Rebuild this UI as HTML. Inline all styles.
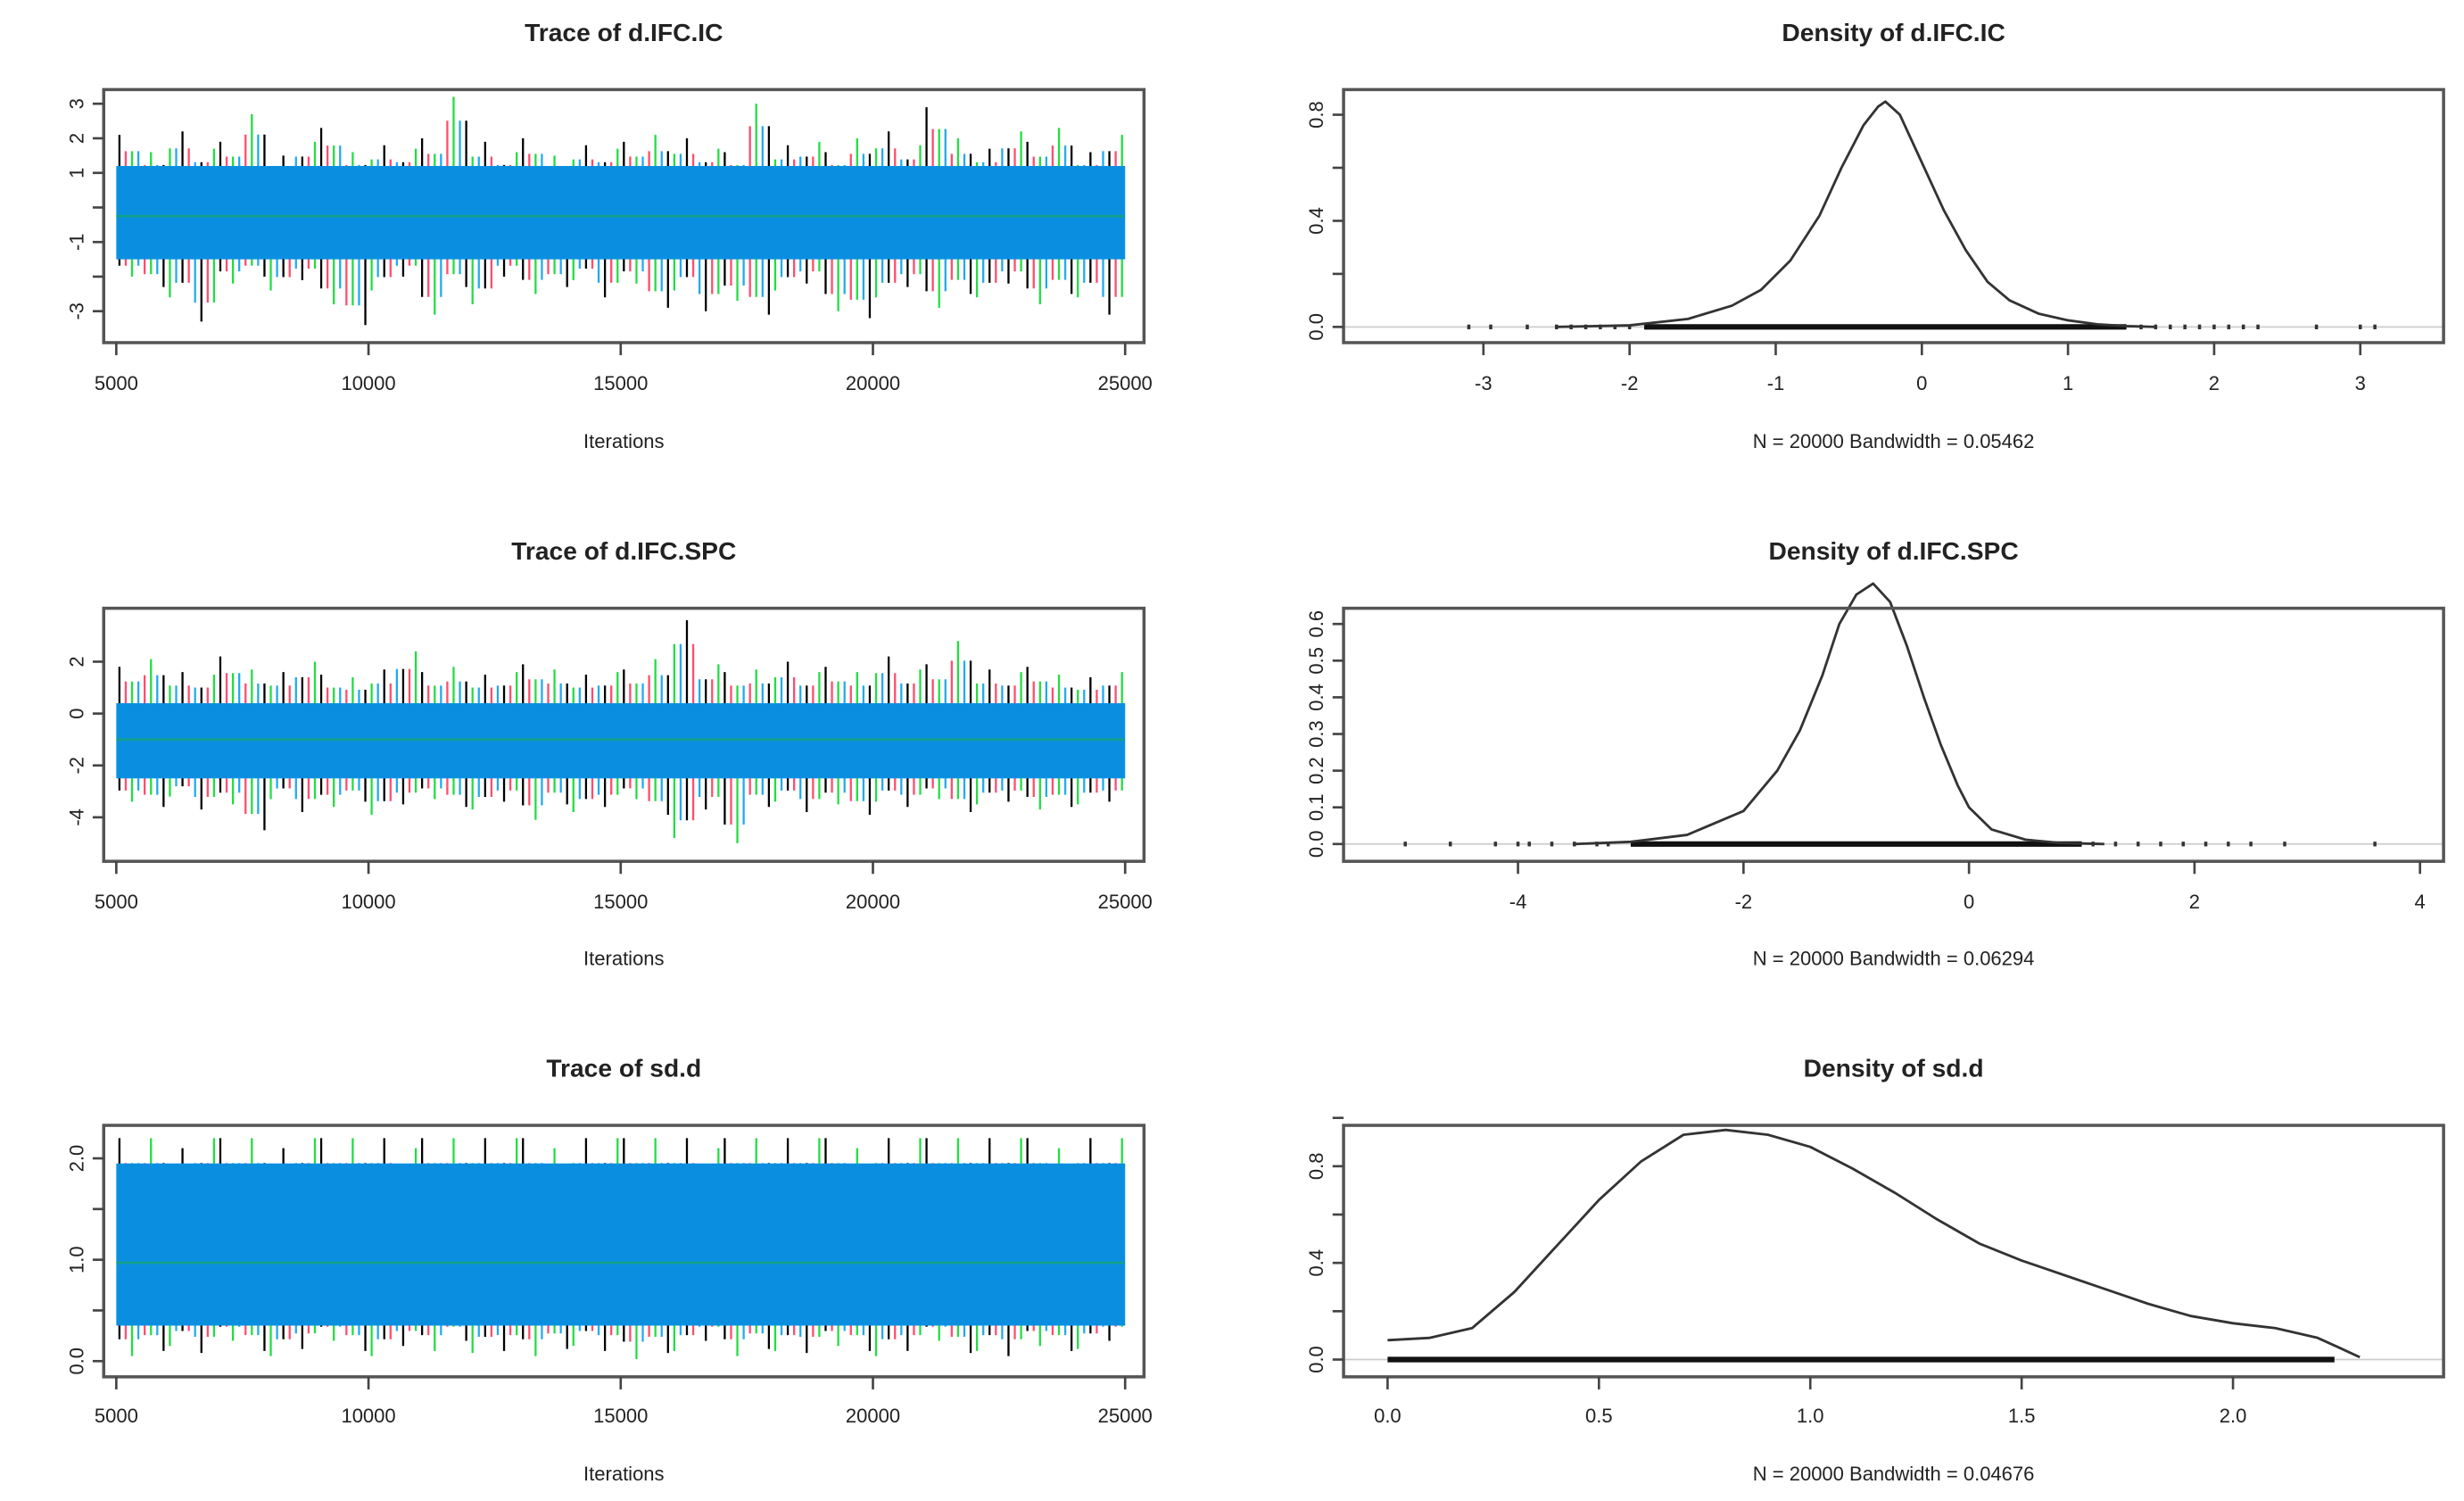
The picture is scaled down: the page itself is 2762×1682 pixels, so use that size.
<!DOCTYPE html>
<html><head><meta charset="utf-8">
<style>
html,body{margin:0;padding:0;background:#fff;}
svg{display:block;}
text{font-family:"Liberation Sans",sans-serif;fill:#222;}
.title{font-size:16px;font-weight:bold;}
.tick{font-size:12.5px;}
</style></head>
<body>
<svg id="chart" width="2762" height="1682" viewBox="0 0 1568 955" preserveAspectRatio="none" xmlns="http://www.w3.org/2000/svg"></svg>
<script>
// ---------- data ----------
const iterTicks = [5000, 10000, 15000, 20000, 25000];
const iterTickLabels = ['5000','10000','15000','20000','25000'];
const chainColors = ['#000000', '#ff4d6d', '#22dd44', '#22aaee'];
// Trace 1: d.IFC.IC  (bin extremes across 40 bins)
const trace1Hi = [2.1,1.6,2.2,1.7,1.9,2.7,1.5,1.9,2.3,1.6,1.8,1.7,2.0,3.2,1.9,1.6,2.0,1.5,1.8,1.7,1.9,2.1,2.0,1.7,1.6,3.0,1.8,1.9,1.6,2.0,2.2,1.8,2.9,2.0,1.7,2.2,1.9,2.3,1.6,2.1];
const trace1Lo = [-2.0,-2.3,-2.6,-3.3,-2.2,-2.0,-2.4,-2.1,-2.8,-3.4,-2.4,-2.0,-3.1,-2.3,-2.8,-2.0,-2.5,-2.3,-2.1,-2.6,-2.2,-2.9,-2.4,-3.0,-2.7,-3.1,-2.4,-2.2,-3.0,-3.2,-2.6,-2.3,-2.9,-2.5,-2.6,-2.2,-2.8,-2.5,-2.6,-3.1];
const trace1Band = [-1.5, 1.2];
const trace1Mean = -0.25;
// Trace 2: d.IFC.SPC
const trace2Hi = [1.8,2.1,1.6,1.5,2.2,1.7,1.6,2.0,1.5,1.4,1.7,2.4,1.6,1.8,1.5,1.6,1.9,1.7,1.5,1.6,1.7,2.1,3.6,1.9,1.6,1.7,2.0,1.6,1.8,1.6,2.2,1.7,1.9,2.8,1.7,1.6,1.8,1.5,1.4,1.6];
const trace2Lo = [-3.4,-3.6,-3.2,-3.7,-3.5,-4.5,-3.3,-3.8,-3.6,-3.4,-3.9,-3.5,-3.3,-3.6,-3.7,-3.4,-4.1,-3.5,-3.8,-3.6,-3.3,-3.9,-4.8,-3.7,-5.0,-3.6,-3.4,-3.8,-3.5,-3.9,-3.4,-3.6,-3.3,-3.8,-3.5,-3.4,-3.7,-3.6,-3.5,-3.4];
const trace2Band = [-2.5, 0.4];
const trace2Mean = -1.0;
// Trace 3: sd.d
const trace3Hi = [2.2,2.2,2.1,2.2,2.2,2.2,2.1,2.2,2.2,2.2,2.2,2.1,2.2,2.2,2.2,2.2,2.2,2.1,2.2,2.2,2.2,2.2,2.2,2.1,2.2,2.2,2.2,2.2,2.2,2.1,2.2,2.2,2.2,2.2,2.2,2.2,2.2,2.1,2.2,2.2];
const trace3Lo = [0.05,0.1,0.15,0.08,0.2,0.1,0.05,0.12,0.2,0.1,0.05,0.15,0.1,0.2,0.08,0.1,0.05,0.12,0.15,0.1,0.02,0.08,0.1,0.2,0.05,0.12,0.1,0.08,0.15,0.1,0.05,0.1,0.2,0.08,0.1,0.05,0.15,0.1,0.12,0.2];
const trace3Band = [0.35, 1.95];
const trace3Mean = 0.97;
// Density curves
const dens1X = [-2.5,-2.0,-1.6,-1.3,-1.1,-0.9,-0.7,-0.55,-0.4,-0.3,-0.25,-0.15,0.0,0.15,0.3,0.45,0.6,0.8,1.0,1.2,1.4,1.6];
const dens1Y = [0.0,0.006,0.03,0.08,0.14,0.25,0.42,0.6,0.76,0.83,0.85,0.8,0.62,0.44,0.29,0.17,0.1,0.05,0.025,0.01,0.003,0.0];
const dens2X = [-3.5,-3.0,-2.5,-2.0,-1.7,-1.5,-1.3,-1.15,-1.0,-0.85,-0.7,-0.55,-0.4,-0.25,-0.1,0.0,0.2,0.5,0.8,1.2];
const dens2Y = [0.0,0.006,0.025,0.09,0.2,0.31,0.46,0.6,0.68,0.71,0.66,0.54,0.4,0.27,0.16,0.1,0.04,0.012,0.003,0.0];
const dens3X = [0.0,0.1,0.2,0.3,0.4,0.5,0.6,0.7,0.8,0.9,1.0,1.1,1.2,1.3,1.4,1.5,1.6,1.7,1.8,1.9,2.0,2.1,2.2,2.25,2.3];
const dens3Y = [0.08,0.09,0.13,0.28,0.47,0.66,0.82,0.93,0.95,0.93,0.88,0.79,0.69,0.58,0.48,0.41,0.35,0.29,0.23,0.18,0.15,0.13,0.09,0.05,0.01];
const rug1 = [-1.9, 1.4]; const rug1Dots = [-3.1,-2.95,-2.7,-2.5,-2.4,-2.3,-2.2,-2.1,-2.0,1.5,1.6,1.7,1.8,1.9,2.0,2.1,2.2,2.3,2.7,3.0,3.1];
const rug2 = [-3.0, 1.0]; const rug2Dots = [-5.0,-4.6,-4.2,-4.0,-3.9,-3.7,-3.5,-3.3,-3.2,1.1,1.3,1.5,1.7,1.9,2.1,2.3,2.5,2.8,3.6];
const rug3 = [0.0, 2.24]; const rug3Dots = [];

// ---------- helpers ----------
const svg = document.getElementById('chart');
const NS = 'http://www.w3.org/2000/svg';
function mk(tag, attrs, parent){const e=document.createElementNS(NS,tag);for(const k in attrs)e.setAttribute(k,attrs[k]);(parent||svg).appendChild(e);return e;}
function lin(d0,d1,r0,r1){return v=>r0+(v-d0)*(r1-r0)/(d1-d0);}

function panelFrame(g, box, title, titleY, xTicks, xLab, xs, yTicks, ys, yLab, xLabel, xLabelY, tickLabY){
  const t=mk('text',{x:(box.x0+box.x1)/2,y:titleY,'text-anchor':'middle',class:'title'},g);
  t.textContent=title;
  
  
  const r=mk('rect',{x:box.x0,y:box.y0,width:box.x1-box.x0,height:box.y1-box.y0,fill:'none',stroke:'#555','stroke-width':2},g);
  
  
  xTicks.forEach((v,i)=>{
    const x=xs(v);
    mk('line',{x1:x,x2:x,y1:box.y1,y2:box.y1+8,stroke:'#444','stroke-width':1.5},g);
    const tl=mk('text',{x:x,y:tickLabY,'text-anchor':'middle',class:'tick'},g);
    tl.textContent=xLab[i];
    
    
  });
  yTicks.forEach((v,i)=>{
    const y=ys(v);
    mk('line',{x1:box.x0-7,x2:box.x0,y1:y,y2:y,stroke:'#444','stroke-width':1.5},g);
    if(yLab[i]!==''){
      const tl=mk('text',{x:box.x0-13,y:y,'text-anchor':'middle',class:'tick',transform:`rotate(-90 ${box.x0-13} ${y})`},g);
      tl.textContent=yLab[i];
      
      
    }
  });
  const xl=mk('text',{x:(box.x0+box.x1)/2,y:xLabelY,'text-anchor':'middle',class:'tick'},g);
  xl.textContent=xLabel;
  
  
}

function tracePanel(name, box, title, titleY, yTicks, yLab, ydom, hi, lo, band, mean, tickLabY, xLabelY){
  const g=mk('g',{});
  
  
  const xs=lin(5000,25000,box.x0+8,box.x1-12);
  const ys=lin(ydom[0],ydom[1],ydom[2],ydom[3]);
  const n=hi.length;
  const binW=20000/n;
  for(let i=0;i<n;i++){
    for(let c=0;c<4;c++){
      const it=5000+binW*(i+(c+0.5)/4);
      const col=chainColors[(i+c)%4];
      const f=(c===(i%4))?1:0.8;
      const l=mk('line',{x1:xs(it),x2:xs(it),y1:ys(mean+(hi[i]-mean)*f),y2:ys(mean+(lo[i]-mean)*(c===((i+2)%4)?1:0.82)),stroke:col,'stroke-width':1.3},g);
      
      
    }
  }
  const b=mk('rect',{x:xs(5000),y:ys(band[1]),width:xs(25000)-xs(5000),height:ys(band[0])-ys(band[1]),fill:'#0a8fe0'},g);
  
  
  const m=mk('line',{x1:xs(5000),x2:xs(25000),y1:ys(mean),y2:ys(mean),stroke:'#13a08a','stroke-width':1.5},g);
  
  
  panelFrame(g,box,title,titleY,iterTicks,iterTickLabels,xs,yTicks,ys,yLab,'Iterations',xLabelY,tickLabY);
}

function densityPanel(name, box, title, titleY, xTicks, xLab, xdom, yTicks, yLab, ydom, dx, dy, rug, rugDots, sub, tickLabY, xLabelY){
  const g=mk('g',{});
  
  
  const xs=lin(xdom[0],xdom[1],xdom[2],xdom[3]);
  const ys=lin(ydom[0],ydom[1],ydom[2],ydom[3]);
  const base=mk('line',{x1:box.x0,x2:box.x1,y1:ys(0),y2:ys(0),stroke:'#ccc','stroke-width':1},g);
  
  
  const r=mk('line',{x1:xs(rug[0]),x2:xs(rug[1]),y1:ys(0),y2:ys(0),stroke:'#111','stroke-width':3.5},g);
  
  
  rugDots.forEach(v=>{
    const d=mk('rect',{x:xs(v)-1,y:ys(0)-1.5,width:2,height:3,fill:'#333'},g);
    
    
  });
  let p='';
  dx.forEach((v,i)=>{p+=(i?'L':'M')+xs(v).toFixed(1)+','+ys(dy[i]).toFixed(1);});
  const c=mk('path',{d:p,fill:'none',stroke:'#333','stroke-width':1.6,'stroke-linejoin':'round'},g);
  
  
  panelFrame(g,box,title,titleY,xTicks,xLab,xs,yTicks,ys,yLab,sub,xLabelY,tickLabY);
}

// ---------- panels ----------
tracePanel('trace-d-ifc-ic',{x0:66,x1:728,y0:57,y1:218},'Trace of d.IFC.IC',26,
  [-3,-2,-1,0,1,2,3],['-3','','-1','','1','2','3'],[0,1,132,110],trace1Hi,trace1Lo,trace1Band,trace1Mean,248,285);
tracePanel('trace-d-ifc-spc',{x0:66,x1:728,y0:387,y1:548},'Trace of d.IFC.SPC',356,
  [-4,-2,0,2],['-4','-2','0','2'],[0,2,454,421],trace2Hi,trace2Lo,trace2Band,trace2Mean,578,614);
tracePanel('trace-sd-d',{x0:66,x1:728,y0:716,y1:876},'Trace of sd.d',685,
  [0,0.5,1,1.5,2],['0.0','','1.0','','2.0'],[0,2,866,737],trace3Hi,trace3Lo,trace3Band,trace3Mean,905,942);

densityPanel('density-d-ifc-ic',{x0:855,x1:1555,y0:57,y1:218},'Density of d.IFC.IC',26,
  [-3,-2,-1,0,1,2,3],['-3','-2','-1','0','1','2','3'],[-3,3,944,1502],[0,0.2,0.4,0.6,0.8],['0.0','','0.4','','0.8'],[0,0.8,208,73],
  dens1X,dens1Y,rug1,rug1Dots,'N = 20000   Bandwidth = 0.05462',248,285);
densityPanel('density-d-ifc-spc',{x0:855,x1:1555,y0:387,y1:548},'Density of d.IFC.SPC',356,
  [-4,-2,0,2,4],['-4','-2','0','2','4'],[-4,4,966,1540],[0,0.1,0.2,0.3,0.4,0.5,0.6],['0.0','0.1','0.2','0.3','0.4','0.5','0.6'],[0,0.6,537,397],
  dens2X,dens2Y,rug2,rug2Dots,'N = 20000   Bandwidth = 0.06294',578,614);
densityPanel('density-sd-d',{x0:855,x1:1555,y0:716,y1:876},'Density of sd.d',685,
  [0,0.5,1,1.5,2],['0.0','0.5','1.0','1.5','2.0'],[0,2,883,1421],[0,0.2,0.4,0.6,0.8,1.0],['0.0','','0.4','','0.8',''],[0,0.8,865,742],
  dens3X,dens3Y,rug3,rug3Dots,'N = 20000   Bandwidth = 0.04676',905,942);
</script>
</body></html>
